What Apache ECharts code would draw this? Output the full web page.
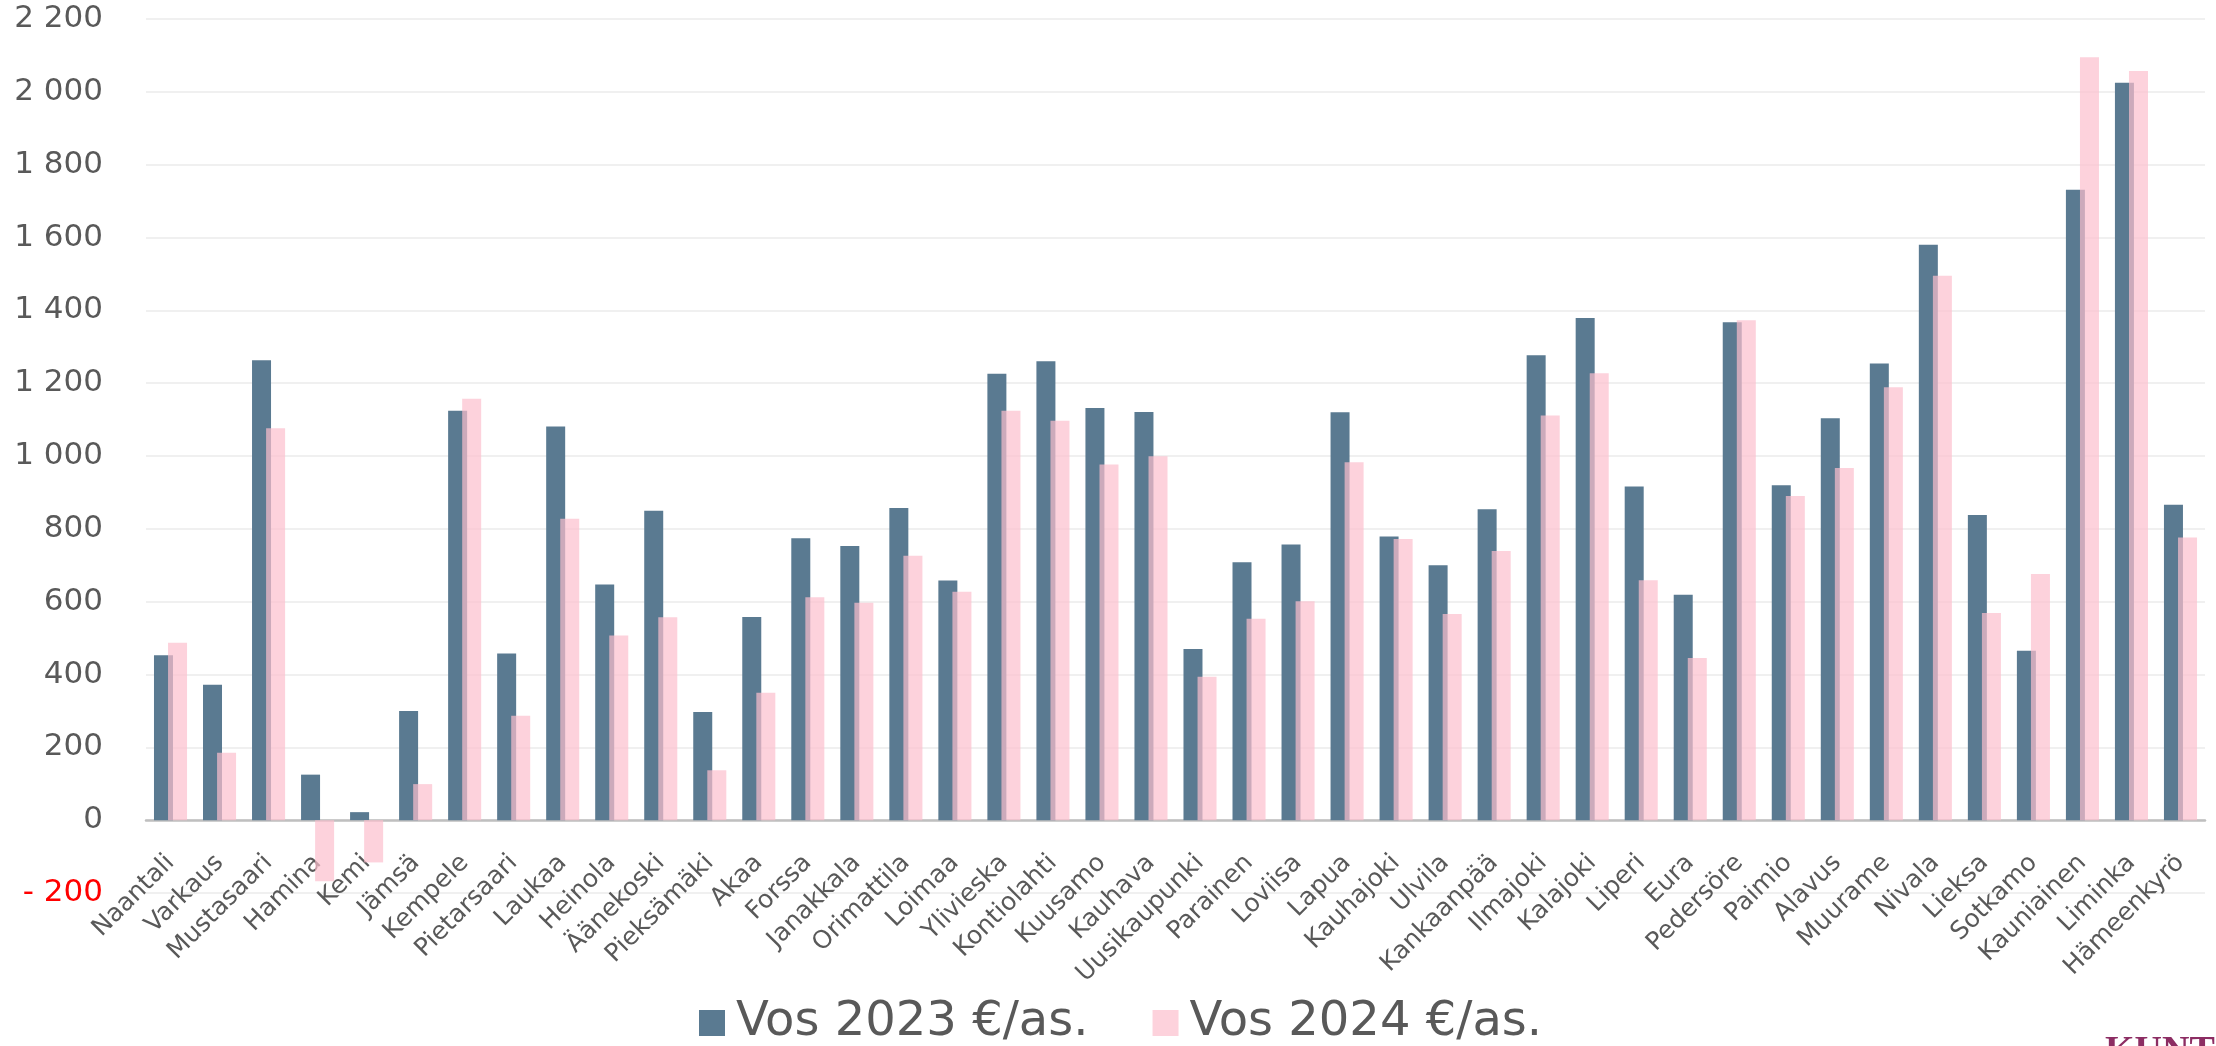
<!DOCTYPE html>
<html>
<head>
<meta charset="utf-8">
<script src="https://cdn.jsdelivr.net/npm/echarts@6/dist/echarts.min.js"></script>
<style>
html,body{margin:0;padding:0;background:#fff;}
#chart{width:2216px;height:1046px;}
</style>
</head>
<body>
<div id="chart"></div>
<script>
const categories = ["Naantali","Varkaus","Mustasaari","Hamina","Kemi","Jämsä","Kempele","Pietarsaari","Laukaa","Heinola","Äänekoski","Pieksämäki","Akaa","Forssa","Janakkala","Orimattila","Loimaa","Ylivieska","Kontiolahti","Kuusamo","Kauhava","Uusikaupunki","Parainen","Loviisa","Lapua","Kauhajoki","Ulvila","Kankaanpää","Ilmajoki","Kalajoki","Liperi","Eura","Pedersöre","Paimio","Alavus","Muurame","Nivala","Lieksa","Sotkamo","Kauniainen","Liminka","Hämeenkyrö"];
const vos2023 = [453,372,1263,125,22,300,1124,458,1081,647,850,297,558,774,753,857,658,1226,1260,1132,1121,470,708,757,1120,779,700,854,1277,1379,916,619,1367,920,1104,1254,1580,838,465,1731,2025,866];
const vos2024 = [487,185,1076,-168,-116,99,1157,287,828,507,557,137,350,612,597,726,627,1124,1097,977,999,394,553,601,983,772,566,739,1111,1227,659,445,1373,890,967,1189,1495,569,676,2095,2057,776];
const seriesNames = ["Vos 2023 €/as.", "Vos 2024 €/as."];
const yMin = -200, yMax = 2200, yStep = 200;

function fmt(v){
  const a = Math.abs(v);
  const s = String(a).replace(/\B(?=(\d{3})+(?!\d))/g, ' ');
  return v < 0 ? '{neg|- ' + s + '}' : s;
}

const FONT = 'Verdana, "DejaVu Sans", sans-serif';

const chart = echarts.init(document.getElementById('chart'), null, {renderer:'canvas'});
chart.setOption({
  animation: false,
  backgroundColor: '#ffffff',
  textStyle: {fontFamily: FONT},
  grid: {left: 146, right: 11, top: 19, bottom: 153, containLabel: false},
  legend: {
    data: seriesNames,
    left: 699, top: 999,
    icon: 'rect', itemWidth: 26, itemHeight: 26, itemGap: 64,
    padding: 0,
    textStyle: {fontSize: 48, color: '#595959', fontFamily: FONT, padding: [0,0,0,6]}
  },
  xAxis: {
    type: 'category',
    data: categories,
    axisTick: {show: false},
    axisLine: {show: true, onZero: true, lineStyle: {color: '#bfbfbf', width: 2.5}},
    axisLabel: {rotate: 45, interval: 0, fontSize: 25, color: '#595959', margin: -34, fontFamily: FONT}
  },
  yAxis: {
    type: 'value', min: yMin, max: yMax, interval: yStep,
    axisLine: {show: false}, axisTick: {show: false},
    splitLine: {lineStyle: {color: '#f0f0f0', width: 2}},
    axisLabel: {formatter: fmt, fontSize: 31, color: '#595959', margin: 43, align: 'right', fontFamily: FONT,
      rich: {neg: {color: '#ff0000', fontSize: 31, fontFamily: FONT}}}
  },
  series: [
    {name: seriesNames[0], type: 'bar', data: vos2023, barWidth: 19, barGap: '-26%',
     itemStyle: {color: '#5a7a91'}},
    {name: seriesNames[1], type: 'bar', data: vos2024, barWidth: 19, barGap: '-26%',
     itemStyle: {color: 'rgba(252,191,205,0.7)'}}
  ],
  graphic: [
    {type: 'text', left: 2105, top: 1033, silent: true,
     style: {text: 'KUNTA', font: 'bold 38px "Liberation Serif", serif', fill: '#8c2d63'}}
  ]
});
</script>
</body>
</html>
